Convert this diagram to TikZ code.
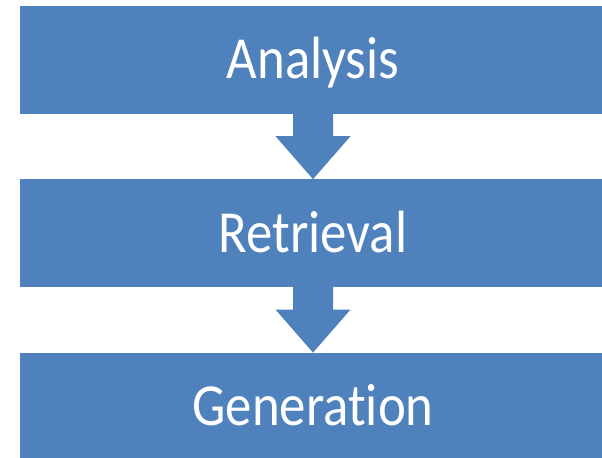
\documentclass[tikz,border=0pt]{standalone}
\usepackage{fontspec}
\setmainfont[Ligatures=NoCommon]{Carlito}
\usepackage{graphicx}
\usetikzlibrary{positioning,calc}

\definecolor{stageblue}{HTML}{4F81BD}

% down arrow from one stage to the next
\newcommand{\stagearrow}[2]{%
  \fill[flow] ($(#1.south)+(-20,4)$) -- ($(#1.south)+(-20,-22)$)
     -- ($(#1.south)+(-37.5,-22)$) -- (#2.north)
     -- ($(#1.south)+(37.5,-22)$) -- ($(#1.south)+(20,-22)$)
     -- ($(#1.south)+(20,4)$) -- cycle;}

\begin{document}
\begin{tikzpicture}[x=1bp,y=1bp,
         stage/.style = {fill=stageblue, text=white, inner sep=0pt,
            minimum width=586bp, minimum height=108bp,
            text height=38bp, text depth=0bp,
            font=\fontsize{53}{60}\selectfont},
         flow/.style = {fill=stageblue}
]
   \useasboundingbox (0,0) rectangle (602,458);

   \node[stage] (analysis) at (313,398) {\scalebox{1}[1.13]{Analysis}};
   \node[stage, below=65bp of analysis] (retrieval) {\scalebox{1}[1.13]{Retrieval}};
   \node[stage, below=65bp of retrieval] (generation) {\scalebox{1}[1.13]{Generation}};

   \stagearrow{analysis}{retrieval}
   \stagearrow{retrieval}{generation}
\end{tikzpicture}
\end{document}
